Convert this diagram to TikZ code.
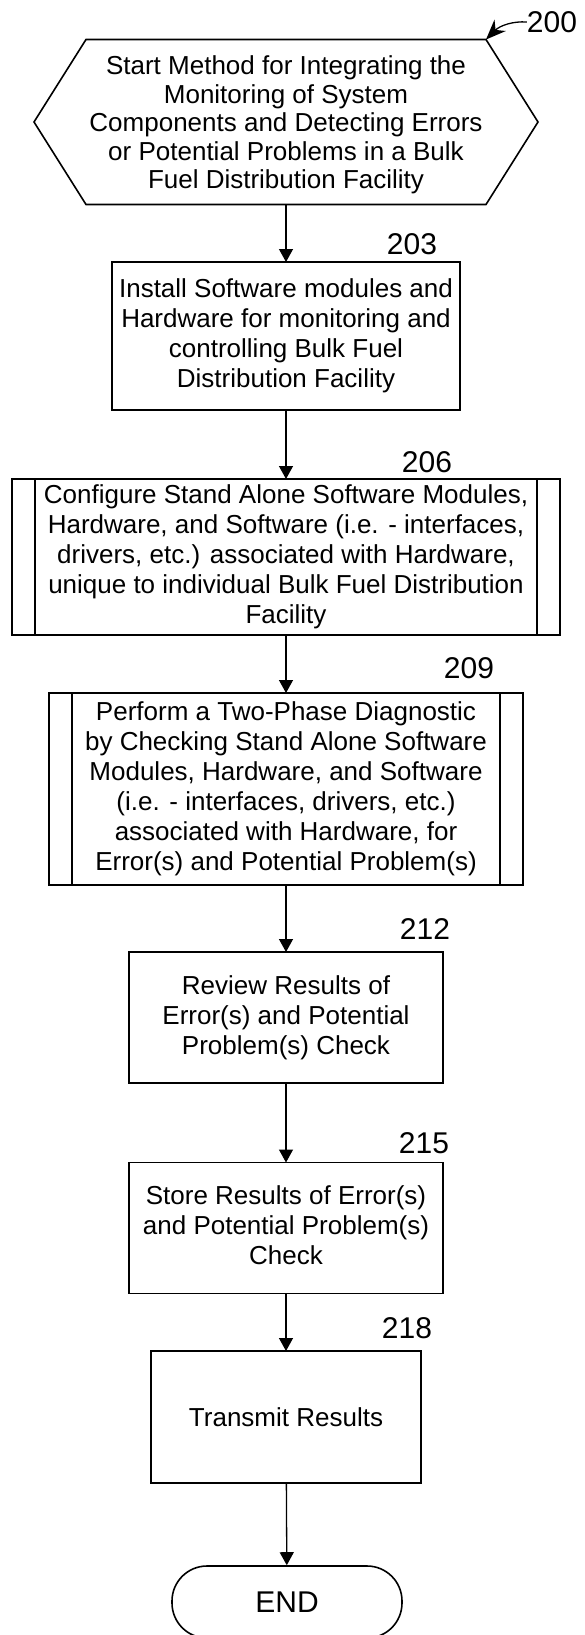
\documentclass[tikz,border=0pt]{standalone}
\usepackage{fontspec}
\setmainfont{Liberation Sans}
\usetikzlibrary{arrows.meta}
% strut that centres a text block on the middle of its capital letters
\newcommand\capstrut{\rule[-0.2em]{0pt}{1.12em}}
\begin{document}
\begin{tikzpicture}[x=1pt,y=-1pt,
  txt/.style={font=\fontsize{26}{30}\selectfont, align=center, inner sep=0pt, outer sep=0pt,
              execute at begin node=\capstrut, execute at end node=\capstrut},
  stepbox/.style={txt, draw, line width=1.6pt, rectangle},
  num/.style={font=\fontsize{30}{32}\selectfont, inner sep=0pt, outer sep=0pt},
  flow/.style={line width=1.3pt, -{Triangle[length=13pt,width=14pt]}},
  sideline/.style={line width=1.6pt},
]
\useasboundingbox (0,0) rectangle (585,1635);

% start terminal (hexagon)
\node[minimum width=400pt, minimum height=165pt, inner sep=0pt, outer sep=0pt] (start) at (286,122) {};
\draw[line width=1.6pt, line join=miter]
  (start.north west) -- (start.north east) -- ([xshift=52pt]start.east)
  -- (start.south east) -- (start.south west) -- ([xshift=-52pt]start.west) -- cycle;
\node[txt, font=\fontsize{26}{28.5}\selectfont] (starttext) at (286,125)
  {Start Method for Integrating the\\Monitoring of System\\Components and Detecting Errors\\or Potential Problems in a Bulk\\Fuel Distribution Facility};

% reference numeral of the method
\node[num] (l200) at (552,22) {200};
\draw[line width=1.3pt, -{Stealth[length=20pt,width=16pt]}]
  (l200.west) .. controls +(-14,-1) and +(14,-14) .. (start.north east);

% process steps
\node[stepbox, minimum width=348pt, minimum height=148pt] (s203) at (286,336)
  {Install Software modules and\\Hardware for monitoring and\\controlling Bulk Fuel\\Distribution Facility};
\node[num] (l203) at (412,244) {203};

\node[stepbox, minimum width=548pt, minimum height=156pt] (s206) at (286,557)
  {Configure Stand Alone Software Modules,\\Hardware, and Software (i.e. - interfaces,\\drivers, etc.) associated with Hardware,\\unique to individual Bulk Fuel Distribution\\Facility};
\draw[sideline] ([xshift=23pt]s206.north west) -- ([xshift=23pt]s206.south west);
\draw[sideline] ([xshift=-23pt]s206.north east) -- ([xshift=-23pt]s206.south east);
\node[num] (l206) at (427,462) {206};

\node[stepbox, minimum width=474pt, minimum height=192pt] (s209) at (286,789)
  {Perform a Two-Phase Diagnostic\\by Checking Stand Alone Software\\Modules, Hardware, and Software\\(i.e. - interfaces, drivers, etc.)\\associated with Hardware, for\\Error(s) and Potential Problem(s)};
\draw[sideline] ([xshift=23pt]s209.north west) -- ([xshift=23pt]s209.south west);
\draw[sideline] ([xshift=-23pt]s209.north east) -- ([xshift=-23pt]s209.south east);
\node[num] (l209) at (469,668) {209};

\node[stepbox, minimum width=314pt, minimum height=131pt] (s212) at (286,1017.5)
  {Review Results of\\Error(s) and Potential\\Problem(s) Check};
\node[num] (l212) at (425,929) {212};

\node[stepbox, minimum width=314pt, minimum height=131pt] (s215) at (286,1228)
  {Store Results of Error(s)\\and Potential Problem(s)\\Check};
\node[num] (l215) at (424,1143) {215};

\node[stepbox, minimum width=270pt, minimum height=132pt] (s218) at (286,1417)
  {Transmit Results};
\node[num] (l218) at (407,1328) {218};

% end terminal
\node[draw, line width=1.6pt, rounded corners=35pt, minimum width=230pt, minimum height=72pt,
      font=\fontsize{30}{32}\selectfont, inner sep=0pt,
      execute at begin node=\capstrut] (done) at (287,1602) {END};

% connectors
\draw[flow] (start) -- (s203);
\draw[flow] (s203) -- (s206);
\draw[flow] (s206) -- (s209);
\draw[flow] (s209) -- (s212);
\draw[flow] (s212) -- (s215);
\draw[flow] (s215) -- (s218);
\draw[flow] (s218) -- (done);
\end{tikzpicture}
\end{document}
